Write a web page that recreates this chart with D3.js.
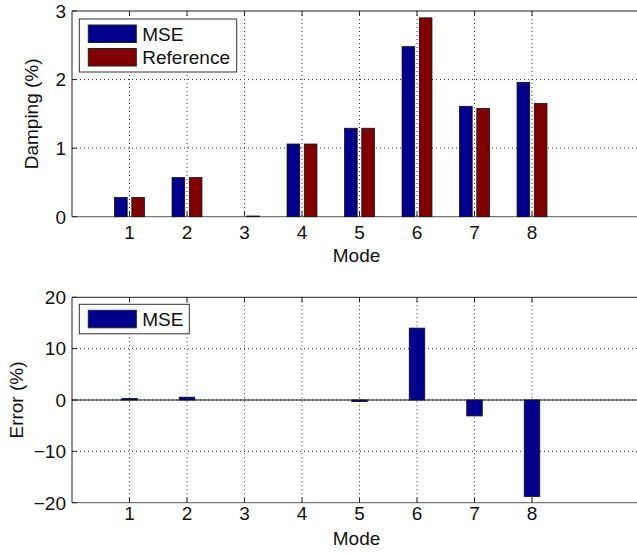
<!DOCTYPE html>
<html>
<head>
<meta charset="utf-8">
<script src="https://cdn.jsdelivr.net/npm/d3@7"></script>
<style>
  body { margin: 0; background: #fff; }
  svg { display: block; overflow: hidden; }
  text { font-family: "Liberation Sans", Arial, sans-serif; fill: #111; }
</style>
</head>
<body>
<div id="chart"></div>
<script>
// modes on the x axis
const modes = [1, 2, 3, 4, 5, 6, 7, 8];
// damping (%) per mode
const dampingMSE = [0.28, 0.57, 0.0, 1.06, 1.29, 2.48, 1.61, 1.96];
const dampingRef = [0.28, 0.57, 0.01, 1.06, 1.29, 2.90, 1.58, 1.65];
// error (%) of MSE estimate
const errorMSE = [0.3, 0.55, 0, 0, -0.3, 14.0, -3.1, -18.8];

const topTicks = [0, 1, 2, 3];
const bottomTicks = [-20, -10, 0, 10, 20];

const W = 637, H = 553;
const left = 72, plotW = 575; // right edge goes past the window, like the source

const svg = d3.select('#chart').append('svg')
  .attr('width', W).attr('height', H);

const x = d3.scaleLinear().domain([0, 10]).range([left, left + plotW]);

const colMSE = '#00008c';
const colRef = '#800000';

// draws one axes box: grid, ticks, labels
function drawFrame(g, y, yTicks, ylabel, ylabelX, labelBase, modeBase) {
  const [y0, y1] = y.range(); // bottom, top

  // vertical grid
  g.append('g').selectAll('line').data(modes).enter().append('line')
    .attr('x1', d => x(d)).attr('x2', d => x(d))
    .attr('y1', y1).attr('y2', y0)
    .attr('stroke', '#333').attr('stroke-width', 1)
    .attr('stroke-dasharray', '1,3');

  // horizontal grid (skip the ends, they are axis lines)
  g.append('g').selectAll('line').data(yTicks.slice(1, -1)).enter().append('line')
    .attr('x1', left).attr('x2', left + plotW)
    .attr('y1', d => y(d)).attr('y2', d => y(d))
    .attr('stroke', '#333').attr('stroke-width', 1)
    .attr('stroke-dasharray', '1,3');

  // axis box lines
  g.append('line').attr('x1', left).attr('x2', left + plotW)
    .attr('y1', y1).attr('y2', y1).attr('stroke', '#222');
  g.append('line').attr('x1', left).attr('x2', left)
    .attr('y1', y1).attr('y2', y0).attr('stroke', '#222');
  g.append('line').attr('x1', left).attr('x2', left + plotW)
    .attr('y1', y0).attr('y2', y0).attr('stroke', '#777').attr('stroke-width', 1.3);

  // inward tick marks
  g.append('g').selectAll('line').data(modes).enter().append('line')
    .attr('x1', d => x(d)).attr('x2', d => x(d))
    .attr('y1', y0).attr('y2', y0 - 5).attr('stroke', '#222');
  g.append('g').selectAll('line').data(modes).enter().append('line')
    .attr('x1', d => x(d)).attr('x2', d => x(d))
    .attr('y1', y1).attr('y2', y1 + 5).attr('stroke', '#222');
  g.append('g').selectAll('line').data(yTicks).enter().append('line')
    .attr('x1', left).attr('x2', left + 5)
    .attr('y1', d => y(d)).attr('y2', d => y(d)).attr('stroke', '#222');

  // tick labels
  g.append('g').selectAll('text').data(modes).enter().append('text')
    .attr('x', d => x(d)).attr('y', labelBase)
    .attr('text-anchor', 'middle').style('font-size', '19px')
    .text(d => d);
  g.append('g').selectAll('text').data(yTicks).enter().append('text')
    .attr('x', left - 6).attr('y', d => y(d)).attr('dy', '0.36em')
    .attr('text-anchor', 'end').style('font-size', '19px')
    .text(d => d < 0 ? '\u2212' + Math.abs(d) : d);

  // x label centred on the whole axes box
  g.append('text').attr('x', left + plotW / 2 - 3).attr('y', modeBase)
    .attr('text-anchor', 'middle').style('font-size', '19px').text('Mode');

  g.append('text')
    .attr('transform', `translate(${ylabelX},${(y0 + y1) / 2}) rotate(-90)`)
    .attr('text-anchor', 'middle').style('font-size', '19px').text(ylabel);
}

function legend(g, items, x0, y0, w) {
  const rowH = 23.5;
  const h = items.length * rowH + 6;
  g.append('rect').attr('x', x0).attr('y', y0).attr('width', w).attr('height', h)
    .attr('fill', '#fff').attr('stroke', '#333').attr('stroke-width', 1);
  items.forEach((it, i) => {
    const ry = y0 + 6 + i * rowH;
    g.append('rect').attr('x', x0 + 9).attr('y', ry).attr('width', 48).attr('height', 17.5)
      .attr('fill', it.color).attr('stroke', '#222');
    g.append('text').attr('x', x0 + 63).attr('y', ry + 15.5)
      .style('font-size', '19px').text(it.name);
  });
}

// ---- top: damping ----
const yTop = d3.scaleLinear().domain([0, 3]).range([216.7, 11]);
const gTop = svg.append('g');
drawFrame(gTop, yTop, topTicks, 'Damping (%)', 38, 239, 262);

const bw = x(0.22) - x(0);
const off = 0.15;
gTop.append('g').selectAll('rect').data(modes).enter().append('rect')
  .attr('x', d => x(d - off) - bw / 2).attr('width', bw)
  .attr('y', (d, i) => yTop(dampingMSE[i]))
  .attr('height', (d, i) => yTop(0) - yTop(dampingMSE[i]))
  .attr('fill', colMSE).attr('stroke', '#111').attr('stroke-width', 0.8);
gTop.append('g').selectAll('rect').data(modes).enter().append('rect')
  .attr('x', d => x(d + off) - bw / 2).attr('width', bw)
  .attr('y', (d, i) => yTop(dampingRef[i]))
  .attr('height', (d, i) => yTop(0) - yTop(dampingRef[i]))
  .attr('fill', colRef).attr('stroke', '#111').attr('stroke-width', 0.8);

legend(gTop, [{ name: 'MSE', color: colMSE }, { name: 'Reference', color: colRef }], 79.3, 19, 157.4);

// ---- bottom: error ----
const yBot = d3.scaleLinear().domain([-20, 20]).range([502.7, 297.3]);
const gBot = svg.append('g');
drawFrame(gBot, yBot, bottomTicks, 'Error (%)', 23, 520, 545);

// zero baseline
gBot.append('line').attr('x1', left).attr('x2', left + plotW)
  .attr('y1', yBot(0)).attr('y2', yBot(0)).attr('stroke', '#111').attr('stroke-width', 1);

const bw2 = x(0.27) - x(0);
gBot.append('g').selectAll('rect').data(modes).enter().append('rect')
  .attr('x', d => x(d) - bw2 / 2).attr('width', bw2)
  .attr('y', (d, i) => yBot(Math.max(0, errorMSE[i])))
  .attr('height', (d, i) => Math.abs(yBot(errorMSE[i]) - yBot(0)))
  .attr('fill', colMSE).attr('stroke', '#111').attr('stroke-width', 0.8);

legend(gBot, [{ name: 'MSE', color: colMSE }], 79.3, 304.3, 110);
</script>
</body>
</html>
